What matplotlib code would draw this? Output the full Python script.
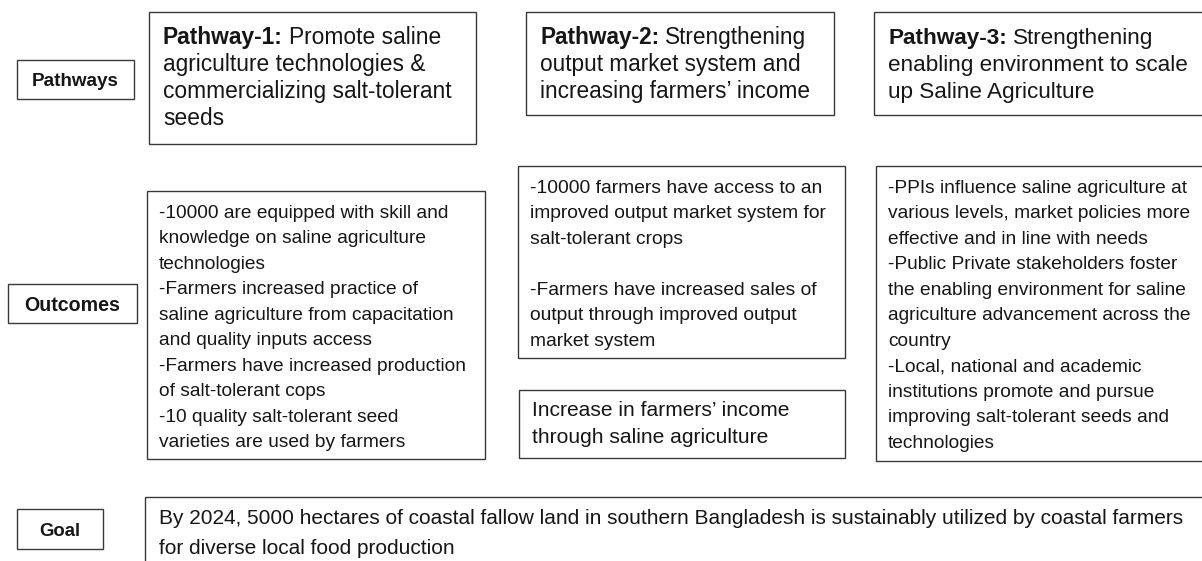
import matplotlib
matplotlib.use('Agg')
import matplotlib.pyplot as plt
from matplotlib.patches import Rectangle
from matplotlib.font_manager import FontProperties

FONT = 'Liberation Sans'
INK = '#161616'
EDGE = '#3a3a3a'

row_labels = ["Pathways", "Outcomes", "Goal"]

pathway_heads = ["Pathway-1:", "Pathway-2:", "Pathway-3:"]
pathway_text = [
    ["Promote saline", "agriculture technologies &", "commercializing salt-tolerant", "seeds"],
    ["Strengthening", "output market system and", "increasing farmers\u2019 income"],
    ["Strengthening", "enabling environment to scale", "up Saline Agriculture"],
]

outcome_text = [
    ["-10000 are equipped with skill and",
     "knowledge on saline agriculture",
     "technologies",
     "-Farmers increased practice of",
     "saline agriculture from capacitation",
     "and quality inputs access",
     "-Farmers have increased production",
     "of salt-tolerant cops",
     "-10 quality salt-tolerant seed",
     "varieties are used by farmers"],
    ["-10000 farmers have access to an",
     "improved output market system for",
     "salt-tolerant crops",
     "",
     "-Farmers have increased sales of",
     "output through improved output",
     "market system"],
    ["-PPIs influence saline agriculture at",
     "various levels, market policies more",
     "effective and in line with needs",
     "-Public Private stakeholders foster",
     "the enabling environment for saline",
     "agriculture advancement across the",
     "country",
     "-Local, national and academic",
     "institutions promote and pursue",
     "improving salt-tolerant seeds and",
     "technologies"],
]

income_text = ["Increase in farmers\u2019 income", "through saline agriculture"]

goal_text = ["By 2024, 5000 hectares of coastal fallow land in southern Bangladesh is sustainably utilized by coastal farmers",
             "for diverse local food production"]

fig = plt.figure(figsize=(12.02, 5.61), dpi=100)
ax = fig.add_axes([0, 0, 1, 1])
ax.set_xlim(0, 1202)
ax.set_ylim(561, 0)
ax.axis('off')
renderer = fig.canvas.get_renderer()


def width_px(s, size, weight='normal'):
    fp = FontProperties(family=FONT, size=size, weight=weight)
    w, h, d = renderer.get_text_width_height_descent(s, fp, ismath=False)
    return w


def fit(s, target, weight='normal'):
    # font size that makes s about target pixels wide
    return 10 * target / width_px(s, 10, weight)


def box(x0, y0, x1, y1):
    ax.add_patch(Rectangle((x0, y0), x1 - x0, y1 - y0, fill=False,
                           ec=EDGE, lw=1.0, clip_on=False))


def write(x, y0, step, rows, size, head=None):
    em = size * 100 / 72
    for i, row in enumerate(rows):
        if not row:
            continue
        y = y0 + i * step + 0.36 * em
        dx = 0
        if i == 0 and head:
            ax.text(x, y, head, fontsize=size, fontweight='bold', family=FONT,
                    va='baseline', ha='left', color=INK)
            space = width_px("a a", size) - width_px("aa", size)
            dx = width_px(head, size, 'bold') + space
        ax.text(x + dx, y, row, fontsize=size, family=FONT,
                va='baseline', ha='left', color=INK)


# row labels
label_boxes = [(17, 60, 134, 99), (8, 284, 137, 323), (17, 509, 103, 549)]
label_widths = [87, 96, 41]
for name, (x0, y0, x1, y1), w in zip(row_labels, label_boxes, label_widths):
    box(x0, y0, x1, y1)
    s = fit(name, w, 'bold')
    ax.text((x0 + x1) / 2, (y0 + y1) / 2 + 0.36 * s * 100 / 72, name, fontsize=s,
            fontweight='bold', family=FONT, ha='center', va='baseline', color=INK)

# pathways
p_boxes = [(149, 12, 476, 144), (526, 12, 834, 115), (874, 12, 1215, 115)]
p_fit = [("commercializing salt-tolerant", 290), ("output market system and", 261),
         ("enabling environment to scale", 300)]
for head, rows, b, (ref, w) in zip(pathway_heads, pathway_text, p_boxes, p_fit):
    box(*b)
    write(b[0] + 14, 36, 27, rows, fit(ref, w), head=head)

# outcomes
o_boxes = [(147, 191, 485, 459), (518, 166, 845, 358), (876, 166, 1215, 461)]
o_first = [211, 186, 186]
o_fit = [("saline agriculture from capacitation", 298),
         ("improved output market system for", 298),
         ("agriculture advancement across the", 305)]
for rows, b, y0, (ref, w) in zip(outcome_text, o_boxes, o_first, o_fit):
    box(*b)
    write(b[0] + 12, y0, 25.5, rows, fit(ref, w))

# income
box(519, 390, 845, 458)
write(532, 408, 27, income_text, fit(income_text[0], 258))

# goal
box(145, 497, 1215, 575)
write(159, 517, 30, goal_text, fit(goal_text[0], 1025))

fig.savefig('out.png', dpi=100, facecolor='white')
